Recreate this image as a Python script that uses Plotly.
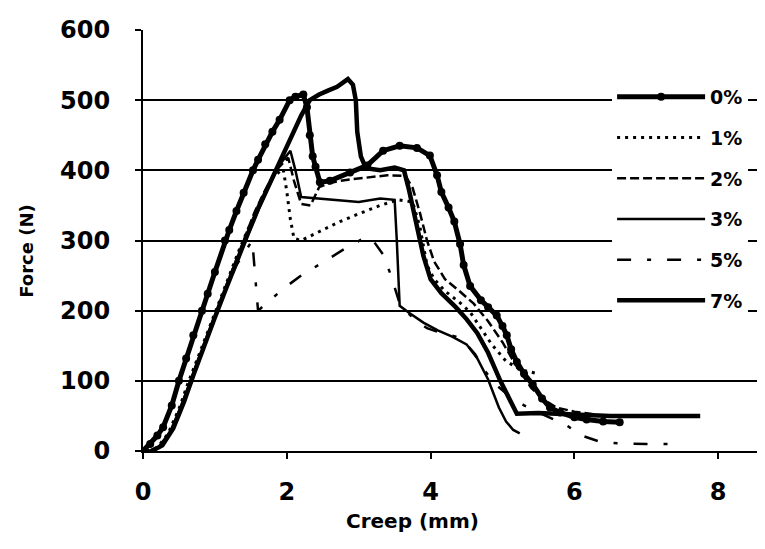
import plotly.graph_objects as go

# ---------------- data ----------------
series_names = ["0%", "1%", "2%", "3%", "5%", "7%"]

x_0 = [0, 0.1, 0.2, 0.28, 0.4, 0.5, 0.6, 0.7, 0.82, 0.9, 1.0, 1.14, 1.2, 1.3, 1.4, 1.53, 1.6, 1.7,
       1.8, 1.9, 2.04, 2.12, 2.23, 2.28, 2.32, 2.36, 2.4, 2.46, 2.6, 2.88, 3.12, 3.34, 3.57, 3.81,
       3.99, 4.09, 4.15, 4.25, 4.33, 4.41, 4.46, 4.55, 4.7, 4.8, 4.92, 5.0, 5.06, 5.12, 5.2, 5.3,
       5.42, 5.55, 5.66, 5.8, 6.0, 6.17, 6.4, 6.63]
y_0 = [0, 10, 22, 34, 65, 100, 132, 165, 200, 224, 255, 300, 315, 342, 368, 400, 415, 437,
       455, 472, 500, 505, 508, 490, 450, 420, 405, 383, 385, 397, 407, 428, 435, 432,
       421, 393, 369, 347, 327, 295, 265, 235, 215, 205, 193, 178, 165, 145, 127, 110,
       95, 75, 62, 55, 48, 45, 42, 41]

x_1 = [0.05, 0.2, 0.35, 0.5, 0.62, 0.75, 0.9, 1.05, 1.2, 1.35, 1.5, 1.65, 1.8, 1.95, 2.0, 2.05,
       2.1, 2.2, 2.3, 2.5, 2.74, 3.0, 3.3, 3.55, 3.75, 3.85, 3.9, 3.95, 4.05, 4.2, 4.4, 4.55,
       4.7, 4.85, 5.05, 5.25, 5.5]
y_1 = [0, 5, 25, 60, 95, 130, 170, 210, 250, 290, 325, 360, 390, 402, 370, 330,
       303, 300, 305, 315, 327, 338, 350, 358, 355, 320, 290, 265, 245, 228, 212, 198,
       175, 152, 128, 116, 110]

x_2 = [0.1, 0.25, 0.4, 0.55, 0.68, 0.8, 0.95, 1.1, 1.25, 1.4, 1.55, 1.7, 1.85, 2.02, 2.1, 2.2,
       2.33, 2.45, 2.6, 2.8, 3.1, 3.4, 3.65, 3.75, 3.85, 3.95, 4.05, 4.2, 4.4, 4.6, 4.8, 5.0,
       5.2, 5.4, 5.55, 5.75, 6.0, 6.3]
y_2 = [0, 8, 30, 68, 105, 140, 180, 220, 262, 300, 340, 372, 400, 418, 385, 352,
       350, 376, 382, 386, 390, 393, 392, 375, 340, 300, 270, 245, 228, 210, 185, 155,
       120, 90, 75, 62, 56, 52]

x_3 = [0.08, 0.22, 0.38, 0.52, 0.66, 0.8, 0.95, 1.1, 1.26, 1.42, 1.58, 1.74, 1.9, 2.05, 2.12,
       2.2, 2.4, 2.7, 3.0, 3.3, 3.5, 3.53, 3.57, 3.7, 3.9, 4.1, 4.3, 4.5, 4.65, 4.8, 4.95,
       5.05, 5.15, 5.24]
y_3 = [0, 6, 28, 62, 100, 138, 178, 218, 258, 298, 338, 375, 408, 428, 400,
       362, 360, 358, 355, 360, 358, 300, 207, 197, 183, 172, 163, 152, 132, 102, 62,
       42, 30, 25]

x_5 = [0.1, 0.25, 0.4, 0.55, 0.7, 0.85, 1.0, 1.15, 1.3, 1.45, 1.52, 1.56, 1.6, 1.8, 2.0, 2.2,
       2.4, 2.6, 2.8, 3.0, 3.1, 3.2, 3.34, 3.45, 3.57, 3.75, 3.95, 4.15, 4.35, 4.5, 4.62,
       4.75, 4.9, 5.1, 5.3, 5.5, 5.7, 5.9, 6.1, 6.36, 6.6, 7.0, 7.5]
y_5 = [0, 6, 30, 65, 105, 150, 190, 230, 265, 290, 300, 250, 200, 218, 235, 250,
       262, 275, 288, 300, 305, 300, 280, 250, 210, 190, 175, 168, 163, 152, 138,
       115, 95, 78, 65, 55, 46, 36, 22, 13, 11, 10, 10]

x_7 = [0.12, 0.27, 0.42, 0.57, 0.7, 0.83, 0.98, 1.13, 1.28, 1.44, 1.6, 1.76, 1.92, 2.08, 2.2,
       2.32, 2.45, 2.58, 2.7, 2.85, 2.92, 2.96, 2.98, 3.03, 3.1, 3.3, 3.5, 3.63, 3.7, 3.8,
       3.9, 4.0, 4.15, 4.35, 4.5, 4.65, 4.8, 4.97, 5.1, 5.2, 5.5, 5.8, 6.1, 6.5, 7.0, 7.75]
y_7 = [0, 8, 32, 70, 108, 145, 185, 225, 265, 305, 345, 380, 415, 450, 478,
       500, 508, 514, 519, 530, 522, 500, 455, 420, 403, 400, 404, 400, 372, 325,
       278, 245, 225, 205, 188, 168, 140, 100, 72, 53, 54, 53, 52, 50, 50, 50]

x_ticks = [0, 2, 4, 6, 8]
y_ticks = [0, 100, 200, 300, 400, 500, 600]

# ---------------- figure ----------------
FONT = "DejaVu Sans"
fig = go.Figure()

styles = {
    "0%": dict(line=dict(color="black", width=5), mode="lines+markers",
               marker=dict(size=8, color="black", symbol="circle")),
    "1%": dict(line=dict(color="black", width=3, dash="3px,5px"), mode="lines"),
    "2%": dict(line=dict(color="black", width=2.5, dash="9px,4px"), mode="lines"),
    "3%": dict(line=dict(color="black", width=2.5), mode="lines"),
    "5%": dict(line=dict(color="black", width=2.5, dash="14px,16px,4px,16px"), mode="lines"),
    "7%": dict(line=dict(color="black", width=4.5), mode="lines"),
}
data = {"0%": (x_0, y_0), "1%": (x_1, y_1), "2%": (x_2, y_2),
        "3%": (x_3, y_3), "5%": (x_5, y_5), "7%": (x_7, y_7)}

for name in series_names:
    xs, ys = data[name]
    fig.add_trace(go.Scatter(x=xs, y=ys, name=name, legendgroup=name, **styles[name]))

fig.update_layout(
    width=757, height=541,
    margin=dict(l=135, r=8, t=14, b=98),
    paper_bgcolor="white", plot_bgcolor="white",
    font=dict(family=FONT, color="black"),
    showlegend=True,
    legend=dict(x=0.764, y=0.886, xanchor="left", yanchor="top",
                bgcolor="white", borderwidth=0,
                font=dict(family=FONT, size=19, weight="bold"),
                itemwidth=88, tracegroupgap=13),
)
fig.update_xaxes(range=[0, 8.54], tickvals=x_ticks, ticktext=[str(v) for v in x_ticks],
                 showgrid=False, zeroline=False, showline=True, linecolor="black", linewidth=2,
                 ticks="outside", ticklen=6, tickwidth=2, tickcolor="black",
                 ticklabelstandoff=12,
                 tickfont=dict(family=FONT, size=24, weight="bold"))
fig.update_yaxes(range=[0, 600], tickvals=y_ticks, ticktext=[str(v) for v in y_ticks],
                 showgrid=True, gridcolor="black", gridwidth=2, zeroline=False,
                 showline=True, linecolor="black", linewidth=2,
                 ticks="outside", ticklen=6, tickwidth=2, tickcolor="black",
                 ticklabelstandoff=20,
                 tickfont=dict(family=FONT, size=24, weight="bold"))

fig.add_annotation(text="Force (N)", xref="paper", yref="paper",
                   x=(27 - 143) / 614, y=(451 - 248) / 429, textangle=-90,
                   showarrow=False, xanchor="center", yanchor="middle",
                   font=dict(family=FONT, size=18, weight="bold"))
fig.add_annotation(text="Creep (mm)", xref="paper", yref="paper",
                   x=(412 - 143) / 614, y=(451 - 522) / 429,
                   showarrow=False, xanchor="center", yanchor="middle",
                   font=dict(family=FONT, size=20, weight="bold"))

fig.write_html("out.html")
